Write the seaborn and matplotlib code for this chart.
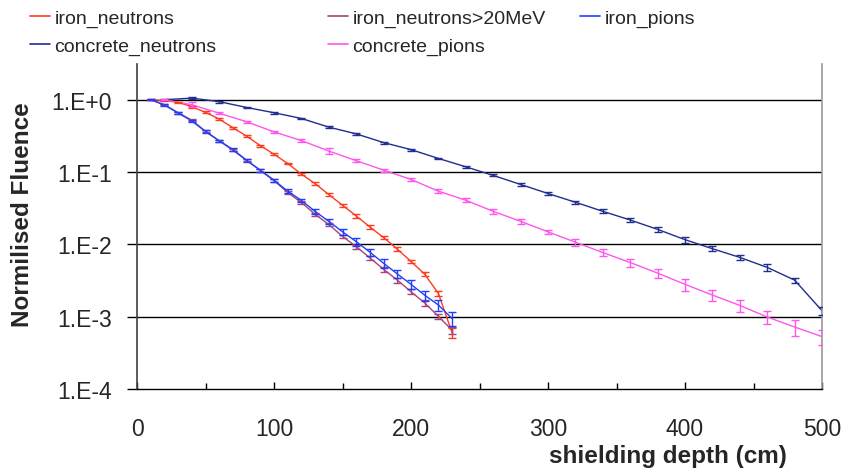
import numpy as np
import pandas as pd
import matplotlib
matplotlib.use("Agg")
import matplotlib.pyplot as plt
from matplotlib.lines import Line2D
from matplotlib.ticker import FixedLocator, FuncFormatter, NullLocator
import seaborn as sns

# ---------------- data ----------------
depth_iron = [10, 20, 30, 40, 50, 60, 70, 80, 90, 100, 110, 120, 130, 140, 150,
              160, 170, 180, 190, 200, 210, 220, 230]
iron_neutrons = [1.0, 0.97, 0.92, 0.80, 0.667, 0.539, 0.41, 0.313, 0.232, 0.176,
                 0.131, 0.0935, 0.069, 0.0488, 0.0347, 0.0247, 0.0174, 0.0124,
                 0.0086, 0.0058, 0.00387, 0.00209, 0.0006]
iron_neutrons_err = [0.01, 0.02, 0.02, 0.03, 0.03, 0.03, 0.03, 0.03, 0.03, 0.03,
                     0.03, 0.03, 0.04, 0.04, 0.04, 0.05, 0.05, 0.05, 0.06, 0.06,
                     0.07, 0.09, 0.15]
iron_neutrons_20 = [1.0, 0.85, 0.66, 0.52, 0.365, 0.27, 0.2, 0.145, 0.105, 0.076,
                    0.052, 0.0378, 0.026, 0.0188, 0.0129, 0.0093, 0.0065, 0.00452,
                    0.00321, 0.00221, 0.00155, 0.00101, 0.00065]
iron_neutrons_20_err = [0.01, 0.02, 0.03, 0.03, 0.03, 0.03, 0.03, 0.03, 0.04, 0.04,
                        0.04, 0.05, 0.05, 0.05, 0.06, 0.06, 0.07, 0.07, 0.08, 0.08,
                        0.09, 0.09, 0.10]
iron_pions = [1.0, 0.845, 0.655, 0.508, 0.363, 0.27, 0.205, 0.145, 0.106, 0.0772,
              0.0543, 0.0405, 0.0285, 0.0208, 0.0149, 0.0109, 0.0078, 0.00547,
              0.0039, 0.0028, 0.00198, 0.00145, 0.00094]
iron_pions_err = [0.01, 0.02, 0.03, 0.04, 0.04, 0.04, 0.05, 0.05, 0.05, 0.05,
                  0.06, 0.06, 0.07, 0.08, 0.10, 0.12, 0.12, 0.13, 0.13, 0.15,
                  0.16, 0.18, 0.22]

depth_concrete = [20, 40, 60, 80, 100, 120, 140, 160, 180, 200, 220, 240, 260,
                  280, 300, 320, 340, 360, 380, 400, 420, 440, 460, 480, 500]
concrete_neutrons = [1.0, 1.05, 0.94, 0.78, 0.66, 0.55, 0.417, 0.337, 0.255, 0.204,
                     0.154, 0.118, 0.0897, 0.0673, 0.0504, 0.0382, 0.0286, 0.0217,
                     0.0161, 0.0116, 0.0087, 0.0066, 0.0048, 0.0032, 0.00121]
concrete_neutrons_err = [0.01, 0.04, 0.03, 0.03, 0.03, 0.03, 0.03, 0.03, 0.03, 0.03,
                         0.03, 0.03, 0.03, 0.04, 0.04, 0.05, 0.06, 0.06, 0.08, 0.10,
                         0.08, 0.09, 0.12, 0.08, 0.12]
concrete_pions = [1.0, 0.85, 0.65, 0.495, 0.359, 0.272, 0.195, 0.1435, 0.106, 0.079,
                  0.0543, 0.0407, 0.0286, 0.0208, 0.0149, 0.0107, 0.0077, 0.0056,
                  0.0040, 0.0028, 0.00199, 0.00143, 0.00099, 0.00072, 0.00053]
concrete_pions_err = [0.01, 0.08, 0.03, 0.04, 0.04, 0.05, 0.09, 0.05, 0.05, 0.05,
                      0.06, 0.06, 0.08, 0.07, 0.07, 0.11, 0.11, 0.12, 0.14, 0.18,
                      0.17, 0.20, 0.20, 0.24, 0.24]

series_names = ["iron_neutrons", "iron_neutrons>20MeV", "iron_pions",
                "concrete_neutrons", "concrete_pions"]
series_colors = ["#FF3B1F", "#A8437A", "#1F3FFF", "#1F2E8F", "#FF55EE"]

ytick_vals = [1e0, 1e-1, 1e-2, 1e-3, 1e-4]
ytick_labels = ["1.E+0", "1.E-1", "1.E-2", "1.E-3", "1.E-4"]
xtick_vals = [0, 100, 200, 300, 400, 500]

# ---------------- build table ----------------
series = [
    (series_names[0], depth_iron, iron_neutrons, iron_neutrons_err),
    (series_names[1], depth_iron, iron_neutrons_20, iron_neutrons_20_err),
    (series_names[2], depth_iron, iron_pions, iron_pions_err),
    (series_names[3], depth_concrete, concrete_neutrons, concrete_neutrons_err),
    (series_names[4], depth_concrete, concrete_pions, concrete_pions_err),
]
frames = []
for name, x, y, e in series:
    frames.append(pd.DataFrame({"depth": x, "fluence": y, "err": e, "series": name}))
df = pd.concat(frames, ignore_index=True)
palette = dict(zip(series_names, series_colors))

# ---------------- figure ----------------
sns.set_theme(style="white")
plt.rcParams["font.family"] = ["Liberation Sans", "DejaVu Sans"]

W, H = 844, 477
fig = plt.figure(figsize=(W / 100, H / 100), dpi=100)
ax_l, ax_r, ax_t, ax_b = 137, 822, 64.5, 390
ax = fig.add_axes([ax_l / W, 1 - ax_b / H, (ax_r - ax_l) / W, (ax_b - ax_t) / H])

sns.lineplot(data=df, x="depth", y="fluence", hue="series", hue_order=series_names,
             palette=palette, linewidth=1.0, legend=False, ax=ax, errorbar=None,
             estimator=None, sort=True)

for name, x, y, e in series:
    y = np.asarray(y)
    err = y * np.asarray(e)
    ax.errorbar(x, y, yerr=err, fmt="none", ecolor=palette[name], elinewidth=1.0,
                capsize=3, capthick=1.0, zorder=3)

ax.set_yscale("log")
ax.set_ylim(1e-4, 10 ** 0.5)
ax.set_xlim(0, 500)

# grid lines at decades
for v in ytick_vals[:-1]:
    ax.axhline(v, color="black", linewidth=1.0, zorder=1)

ax.yaxis.set_major_locator(FixedLocator(ytick_vals))
ax.yaxis.set_major_formatter(FuncFormatter(
    lambda v, p: ytick_labels[int(round(-np.log10(v)))] if v > 0 else ""))
ax.yaxis.set_minor_locator(NullLocator())
ax.xaxis.set_major_locator(FixedLocator(xtick_vals))
ax.xaxis.set_minor_locator(FixedLocator([50, 150, 250, 350, 450]))

ax.tick_params(axis="y", which="major", direction="out", length=7, width=1,
               color="black", labelsize=16.5, pad=11, left=True)
ax.tick_params(axis="x", which="major", direction="in", length=5, width=1,
               color="black", labelsize=16.5, pad=20, bottom=True)
ax.tick_params(axis="x", which="minor", direction="in", length=4, width=1,
               color="black", bottom=True)

ax.spines["top"].set_visible(False)
ax.spines["left"].set_color("#404040")
ax.spines["left"].set_linewidth(1.2)
ax.spines["bottom"].set_color("black")
ax.spines["bottom"].set_linewidth(1.0)
ax.spines["right"].set_color("#999999")
ax.spines["right"].set_linewidth(1.2)

ax.set_xlabel("shielding depth (cm)", fontsize=17.5, fontweight="bold",
              ha="right", va="center")
ax.xaxis.set_label_coords((787 - ax_l) / (ax_r - ax_l), (ax_b - 457) / (ax_b - ax_t))
ax.set_ylabel("Normilised Fluence", fontsize=17.5, fontweight="bold",
              va="center", ha="center")
ax.yaxis.set_label_coords((23 - ax_l) / (ax_r - ax_l), (ax_b - 215) / (ax_b - ax_t))

# legend: three columns placed at fixed spots
cols = [[0, 3], [1, 4], [2]]
col_x = [30, 328, 580]
for idxs, cx in zip(cols, col_x):
    handles = [Line2D([], [], color=series_colors[i], linewidth=1.2) for i in idxs]
    labels = [series_names[i] for i in idxs]
    fig.legend(handles, labels, loc="upper left",
               bbox_to_anchor=(cx / W, 1 - 10.5 / H), frameon=False, fontsize=14,
               borderpad=0, borderaxespad=0, handlelength=1.05, handletextpad=0.2,
               labelspacing=0.5)

fig.savefig("out.png", dpi=100)
